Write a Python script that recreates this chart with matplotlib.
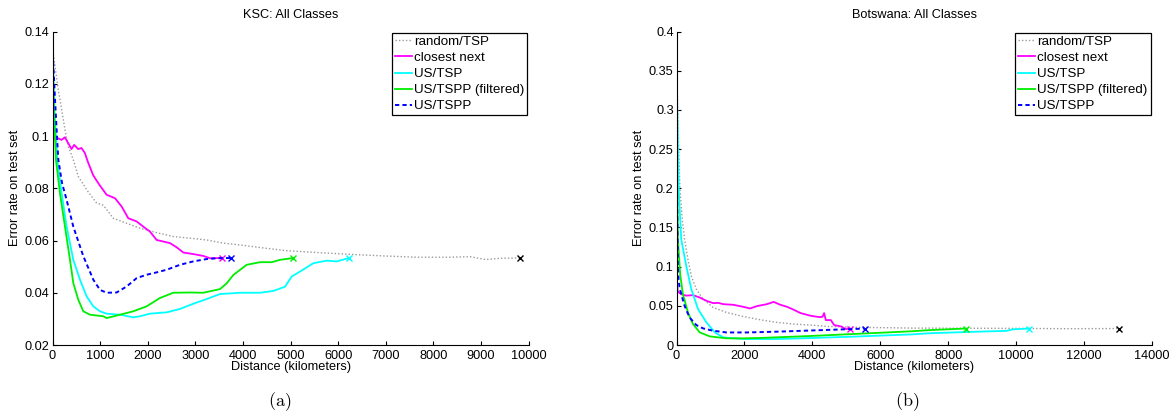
import matplotlib
matplotlib.use('Agg')
import matplotlib.pyplot as plt
from matplotlib.ticker import FormatStrFormatter, MultipleLocator

plt.rcParams['font.family'] = ['Liberation Sans', 'DejaVu Sans']
plt.rcParams['mathtext.fontset'] = 'cm'

labels = ['random/TSP', 'closest next', 'US/TSP', 'US/TSPP (filtered)', 'US/TSPP']

# KSC: error rate vs. distance travelled (km)
ksc_random_x = [0, 50, 122, 193, 262, 332, 437, 542, 718, 928, 1067, 1277, 1557, 1837, 2188, 2537,
                2887, 3238, 3587, 3937, 4498, 4918, 5548, 6248, 6947, 7648, 8348, 8768, 9100, 9400, 9820]
ksc_random_y = [0.134, 0.127, 0.1177, 0.110, 0.1024, 0.096, 0.0909, 0.0845, 0.0794, 0.0743, 0.0735,
                0.0685, 0.0666, 0.0647, 0.0630, 0.0615, 0.0609, 0.0602, 0.0590, 0.0583, 0.0570, 0.0561,
                0.0554, 0.0547, 0.0541, 0.0536, 0.0536, 0.0538, 0.0527, 0.0532, 0.0533]
ksc_closest_x = [0, 5, 14, 60, 119, 189, 259, 329, 399, 455, 539, 609, 679, 749, 854, 924, 997, 1137,
                 1312, 1452, 1592, 1767, 1907, 2047, 2187, 2327, 2467, 2607, 2747, 2957, 3167, 3307, 3552]
ksc_closest_y = [0.134, 0.105, 0.1004, 0.0985, 0.0991, 0.0985, 0.0995, 0.0973, 0.095, 0.0966, 0.095,
                 0.0954, 0.0935, 0.0898, 0.085, 0.083, 0.081, 0.0775, 0.0762, 0.073, 0.0685, 0.0673,
                 0.0653, 0.0634, 0.0602, 0.0596, 0.059, 0.0574, 0.0554, 0.0548, 0.0541, 0.0532, 0.0533]
ksc_us_tsp_x = [0, 40, 101, 192, 297, 437, 577, 717, 857, 997, 1137, 1417, 1697, 1837, 2047, 2397, 2677,
                2957, 3237, 3517, 3937, 4357, 4637, 4882, 5022, 5197, 5477, 5757, 5967, 6232]
ksc_us_tsp_y = [0.134, 0.11, 0.0908, 0.078, 0.0653, 0.0526, 0.045, 0.0386, 0.0348, 0.0329, 0.032,
                0.0316, 0.0306, 0.031, 0.032, 0.0325, 0.0338, 0.0358, 0.0376, 0.0395, 0.0400, 0.0400,
                0.0407, 0.0423, 0.0462, 0.0481, 0.0513, 0.0523, 0.052, 0.0533]
ksc_filtered_x = [0, 30, 73, 157, 262, 367, 437, 542, 647, 787, 1067, 1137, 1417, 1697, 1977, 2257, 2537,
                  2887, 3167, 3517, 3658, 3797, 4078, 4357, 4603, 4777, 5057]
ksc_filtered_y = [0.134, 0.11, 0.0908, 0.078, 0.0653, 0.0526, 0.0437, 0.0373, 0.0329, 0.0316, 0.031,
                  0.0303, 0.0316, 0.0329, 0.0348, 0.038, 0.040, 0.0401, 0.040, 0.0414, 0.0436, 0.0468,
                  0.0507, 0.0517, 0.0517, 0.0526, 0.0533]
ksc_tspp_x = [0, 50, 100, 122, 200, 297, 437, 647, 857, 997, 1137, 1347, 1557, 1767, 1977, 2187, 2397,
              2677, 2957, 3237, 3447, 3740]
ksc_tspp_y = [0.134, 0.115, 0.098, 0.091, 0.082, 0.0755, 0.0653, 0.054, 0.045, 0.0411, 0.040, 0.0401,
              0.0424, 0.0456, 0.0469, 0.0478, 0.0488, 0.0507, 0.052, 0.0529, 0.0532, 0.0533]

# Botswana
bot_random_x = [0, 40, 100, 170, 238, 337, 436, 584, 782, 1079, 1475, 1970, 2465, 2960, 3455, 3950, 4445,
                5435, 6920, 8500, 10000, 11500, 13030]
bot_random_y = [0.362, 0.29, 0.20, 0.16, 0.135, 0.109, 0.088, 0.0712, 0.0585, 0.0479, 0.0415, 0.0364,
                0.0322, 0.0288, 0.0267, 0.0254, 0.0237, 0.0225, 0.0216, 0.0214, 0.0212, 0.0208, 0.021]
bot_closest_x = [0, 10, 20, 40, 139, 287, 485, 683, 881, 1079, 1228, 1376, 1673, 1970, 2168, 2366, 2663,
                 2861, 3059, 3257, 3455, 3653, 3950, 4198, 4300, 4346, 4396, 4544, 4643, 4841, 4990, 5108]
bot_closest_y = [0.362, 0.12, 0.075, 0.068, 0.0648, 0.063, 0.0636, 0.0606, 0.0564, 0.0534, 0.0538,
                 0.0521, 0.0513, 0.0487, 0.0466, 0.0496, 0.0521, 0.055, 0.0513, 0.0487, 0.0449, 0.0407,
                 0.0373, 0.0356, 0.036, 0.0407, 0.0318, 0.0318, 0.0254, 0.0237, 0.0203, 0.021]
bot_us_tsp_x = [0, 30, 69, 119, 139, 287, 436, 634, 881, 1129, 1376, 1970, 2960, 3950, 5435, 6000, 6920,
                7447, 8923, 9710, 9907, 10380]
bot_us_tsp_y = [0.362, 0.28, 0.194, 0.152, 0.135, 0.101, 0.0712, 0.0458, 0.0288, 0.0161, 0.0097, 0.0076,
                0.0076, 0.0089, 0.011, 0.012, 0.0135, 0.015, 0.0171, 0.018, 0.020, 0.021]
bot_filtered_x = [0, 20, 40, 109, 188, 337, 485, 683, 980, 1475, 2000, 2465, 3950, 5435, 6920, 7447,
                  8234, 8510]
bot_filtered_y = [0.362, 0.2, 0.135, 0.09, 0.065, 0.0415, 0.0267, 0.0161, 0.011, 0.0085, 0.0085, 0.009,
                  0.0115, 0.0145, 0.0175, 0.019, 0.0205, 0.021]
bot_tspp_x = [0, 15, 40, 59, 89, 139, 238, 386, 584, 782, 1079, 1475, 2069, 2960, 3950, 4940, 5550]
bot_tspp_y = [0.362, 0.2, 0.1, 0.085, 0.073, 0.065, 0.05, 0.035, 0.0254, 0.0212, 0.0182, 0.016, 0.016,
              0.017, 0.0185, 0.020, 0.021]

styles = [
    dict(color='#9a9a9a', lw=1.0, ls=(0, (1, 1.5))),
    dict(color='#ff00ff', lw=1.3, ls='-'),
    dict(color='#00ffff', lw=1.3, ls='-'),
    dict(color='#00ee00', lw=1.3, ls='-'),
    dict(color='#0000ff', lw=1.4, ls=(0, (2.2, 1.6))),
]
end_colors = ['black', '#ff00ff', '#00ffff', '#00ee00', '#0000ff']

panels = [
    dict(title='KSC: All Classes',
         series=[(ksc_random_x, ksc_random_y), (ksc_closest_x, ksc_closest_y), (ksc_us_tsp_x, ksc_us_tsp_y),
                 (ksc_filtered_x, ksc_filtered_y), (ksc_tspp_x, ksc_tspp_y)],
         xlim=(0, 10000), xstep=1000, ylim=(0.02, 0.14), ystep=0.02, caption='(a)'),
    dict(title='Botswana: All Classes',
         series=[(bot_random_x, bot_random_y), (bot_closest_x, bot_closest_y), (bot_us_tsp_x, bot_us_tsp_y),
                 (bot_filtered_x, bot_filtered_y), (bot_tspp_x, bot_tspp_y)],
         xlim=(0, 14000), xstep=2000, ylim=(0, 0.4), ystep=0.05, caption='(b)'),
]

W, H = 1176, 420
fs = 9.2
fig = plt.figure(figsize=(W / 100, H / 100), dpi=100)
boxes = [(52.5, 528.7), (676.5, 1152)]
ylabel_px = [15, 639]
top_px, bot_px = 31.5, 345
caption_x = [280, 907]

for p, (x0, x1), lx, cx in zip(panels, boxes, ylabel_px, caption_x):
    ax = fig.add_axes([x0 / W, 1 - bot_px / H, (x1 - x0) / W, (bot_px - top_px) / H])
    for (xs, ys), st, lab, ec in zip(p['series'], styles, labels, end_colors):
        ax.plot(xs, ys, label=lab, **st)
        ax.plot(xs[-1], ys[-1], 'x', color=ec, ms=5, mew=1.0)
    ax.set_xlim(*p['xlim'])
    ax.set_ylim(*p['ylim'])
    ax.xaxis.set_major_locator(MultipleLocator(p['xstep']))
    ax.yaxis.set_major_locator(MultipleLocator(p['ystep']))
    ax.yaxis.set_major_formatter(FormatStrFormatter('%g'))
    ax.xaxis.set_major_formatter(FormatStrFormatter('%g'))
    for s in ['top', 'right']:
        ax.spines[s].set_visible(False)
    for s in ['left', 'bottom']:
        ax.spines[s].set_linewidth(0.8)
    ax.tick_params(direction='in', length=3, width=0.8, labelsize=fs)
    ax.tick_params(axis='x', pad=3.5)
    ax.tick_params(axis='y', pad=2)
    hgt = bot_px - top_px
    ax.text(0.5, 1 + 16.5 / hgt, p['title'], transform=ax.transAxes, ha='center', va='center', fontsize=fs)
    ax.set_xlabel('Distance (kilometers)', fontsize=fs)
    ax.xaxis.set_label_coords(0.5, -22 / hgt)
    ax.xaxis.label.set_verticalalignment('center')
    ax.set_ylabel('Error rate on test set', fontsize=fs)
    ax.yaxis.set_label_coords(-(x0 - lx) / (x1 - x0), 0.5)
    ax.yaxis.label.set_verticalalignment('center')
    leg = ax.legend(loc='upper right', bbox_to_anchor=(1.0, 1.0), borderaxespad=0.1, fontsize=9.6,
                    handlelength=1.3, handletextpad=0.15, labelspacing=0.28, borderpad=0.22,
                    fancybox=False, framealpha=1, edgecolor='black')
    leg.get_frame().set_linewidth(0.9)
    fig.text(cx / W, 1 - 402 / H, r'$\mathrm{' + p['caption'] + '}$', ha='center', va='center', fontsize=13)

fig.savefig('out.png', dpi=100)
